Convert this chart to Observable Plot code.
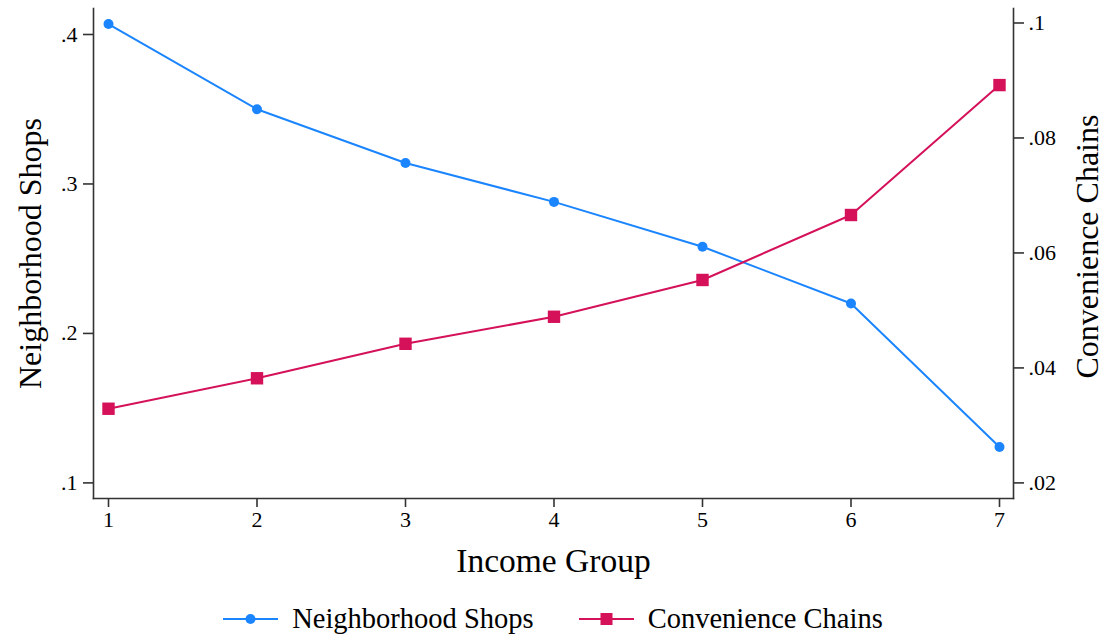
<!DOCTYPE html>
<html>
<head>
<meta charset="utf-8">
<script src="https://cdn.jsdelivr.net/npm/d3@7"></script>
<script src="https://cdn.jsdelivr.net/npm/@observablehq/plot@0.6"></script>
<style>
  html, body { margin: 0; padding: 0; background: #fff; }
  body { width: 1104px; height: 636px; overflow: hidden; font-family: "Liberation Serif", "Times New Roman", serif; }
  #legend { display: flex; justify-content: center; align-items: center; height: 40px; margin-top: 3px; font-size: 28.5px; color: #000; padding-left: 2px; }
  .item { display: flex; align-items: center; }
  .item svg { margin-right: 14px; }
  .gap { width: 45px; }
</style>
</head>
<body>
<div id="chart"></div>
<div id="legend"></div>
<script>
// ---- data ----
const incomeGroups = [1, 2, 3, 4, 5, 6, 7];
const neighborhoodShops = [0.407, 0.350, 0.314, 0.288, 0.258, 0.220, 0.124];
const convenienceChains = [0.0329, 0.0382, 0.0442, 0.0489, 0.0553, 0.0666, 0.0892];

const xTicks = [1, 2, 3, 4, 5, 6, 7];
const leftTicks = [0.1, 0.2, 0.3, 0.4];
const leftTickLabels = [".1", ".2", ".3", ".4"];
const rightTicks = [0.02, 0.04, 0.06, 0.08, 0.1];
const rightTickLabels = [".02", ".04", ".06", ".08", ".1"];

const seriesNames = ["Neighborhood Shops", "Convenience Chains"];
const seriesColors = ["#1A85FF", "#D41159"];

// right axis (.02 – .1) mapped onto left axis units; .02 ↔ .1, .1 ↔ .4077
const rightTopInLeft = 0.4077;
const toLeft = v => 0.1 + (v - 0.02) * (rightTopInLeft - 0.1) / (0.1 - 0.02);
const rightTickPos = rightTicks.map(toLeft);

const shops = incomeGroups.map((g, i) => ({x: g, y: neighborhoodShops[i]}));
const chains = incomeGroups.map((g, i) => ({x: g, y: toLeft(convenienceChains[i]), raw: convenienceChains[i]}));

const axisColor = "#333";
const font = "Liberation Serif, Times New Roman, serif";

const chart = Plot.plot({
  width: 1104,
  height: 596,
  marginLeft: 93,
  marginRight: 91,
  marginTop: 8,
  marginBottom: 98,
  style: {fontFamily: font, color: "#000", background: "#fff"},
  x: {domain: [1, 7], insetLeft: 15, insetRight: 14},
  y: {domain: [0.1, 0.4], insetTop: 26, insetBottom: 15.6},
  marks: [
    Plot.frame({anchor: "left", stroke: axisColor, strokeWidth: 1.6}),
    Plot.frame({anchor: "right", stroke: axisColor, strokeWidth: 1.6}),
    Plot.frame({anchor: "bottom", stroke: axisColor, strokeWidth: 1.6}),
    Plot.axisX({ticks: xTicks, tickFormat: d => String(d), tickSize: 9, tickPadding: 4, fontSize: 22, label: null, stroke: axisColor, strokeWidth: 1.6}),
    Plot.axisY({anchor: "left", ticks: leftTicks, tickFormat: d => leftTickLabels[leftTicks.indexOf(d)], tickSize: 10, tickPadding: 6, fontSize: 22, label: null, stroke: axisColor, strokeWidth: 1.6}),
    Plot.axisY({anchor: "right", ticks: rightTickPos, tickFormat: d => rightTickLabels[rightTickPos.indexOf(d)], tickSize: 10, tickPadding: 5, fontSize: 22, label: null, stroke: axisColor, strokeWidth: 1.6}),
    Plot.line(shops, {x: "x", y: "y", stroke: seriesColors[0], strokeWidth: 2}),
    Plot.line(chains, {x: "x", y: "y", stroke: seriesColors[1], strokeWidth: 2}),
    Plot.dot(shops, {x: "x", y: "y", r: 5, fill: seriesColors[0], stroke: null}),
    Plot.dot(chains, {x: "x", y: "y", r: 7, symbol: "square", fill: seriesColors[1], stroke: null}),
    Plot.text(["Neighborhood Shops"], {text: d => d, frameAnchor: "left", textAnchor: "middle", lineAnchor: "middle", rotate: -90, dx: -63, fontSize: 32, fill: "#000"}),
    Plot.text(["Convenience Chains"], {text: d => d, frameAnchor: "right", textAnchor: "middle", lineAnchor: "middle", rotate: -90, dx: 74, dy: -7, fontSize: 32, fill: "#000"}),
    Plot.text(["Income Group"], {text: d => d, frameAnchor: "bottom", textAnchor: "middle", lineAnchor: "bottom", dy: 73, fontSize: 33.5, fill: "#000"})
  ]
});
document.getElementById("chart").appendChild(chart);

// make sure tick labels use the larger size
d3.select(chart).selectAll('g[aria-label$="tick label"]').attr("font-size", 22).style("font-size", "22px");

// legend
const legend = d3.select("#legend");
seriesNames.forEach((name, i) => {
  if (i > 0) legend.append("div").attr("class", "gap");
  const item = legend.append("div").attr("class", "item");
  const s = item.append("svg").attr("width", 55).attr("height", 20);
  s.append("line").attr("x1", 0).attr("x2", 55).attr("y1", 10).attr("y2", 10)
    .attr("stroke", seriesColors[i]).attr("stroke-width", 2);
  if (i === 0) s.append("circle").attr("cx", 27.5).attr("cy", 10).attr("r", 5).attr("fill", seriesColors[i]);
  else s.append("rect").attr("x", 21.5).attr("y", 4).attr("width", 12).attr("height", 12).attr("fill", seriesColors[i]);
  item.append("span").text(name);
});
</script>
</body>
</html>
